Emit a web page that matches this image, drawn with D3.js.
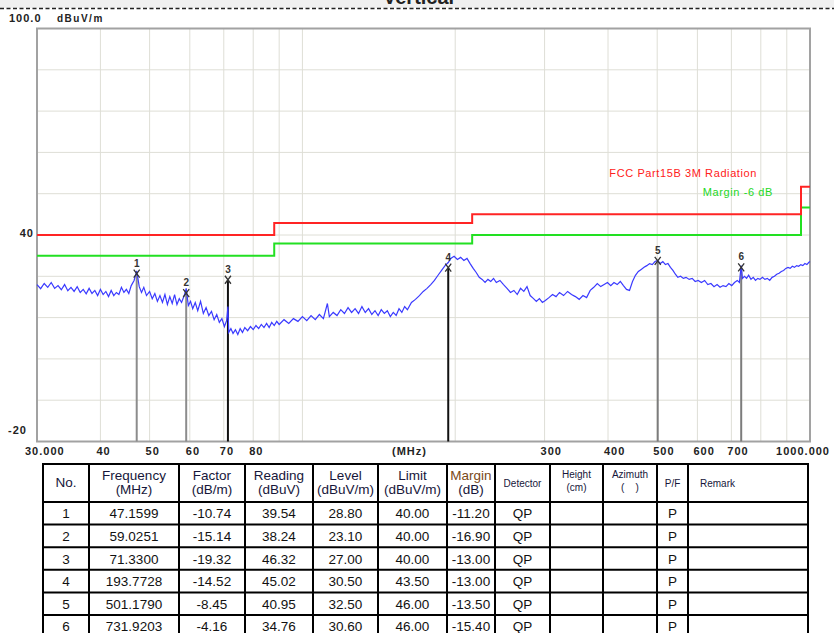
<!DOCTYPE html>
<html>
<head>
<meta charset="utf-8">
<script src="https://cdn.jsdelivr.net/npm/d3@7"></script>
<style>
  html, body { margin: 0; padding: 0; background: #fff; }
  svg { display: block; font-family: "Liberation Sans", Arial, sans-serif; }
</style>
</head>
<body>
<div id="chart"></div>
<script>
// ---- data ----
const xGridValues = [30, 40, 50, 60, 70, 80, 90, 100, 200, 300, 400, 500, 600, 700, 800, 900, 1000];
const xTickValues = [30, 40, 50, 60, 70, 80, 300, 400, 500, 600, 700, 1000];
const xTickLabels = ["30.000", "40", "50", "60", "70", "80", "300", "400", "500", "600", "700", "1000.000"];
const yGridValues = [-20, -8, 4, 16, 28, 40, 52, 64, 76, 88, 100];
const yTickValues = [100, 40, -20];
const yTickLabels = ["100.0", "40", "-20"];

// FCC Part15B limit, step after each frequency
const limitFreq = [30, 88, 216, 960, 1000];
const limitLevel = [40, 43.5, 46, 54, 54];
const marginOffset = -6;

// measured spectrum trace [MHz, dBuV/m]
const trace = [
  [30, 25.6], [30.5, 24.4], [31, 25.9], [31.5, 24.8], [32, 26.2], [32.5, 24.5], [33, 25.3], [33.5, 24.1],
  [34, 25.6], [34.5, 23.8], [35, 24.8], [35.5, 23.6], [36, 25.0], [36.5, 23.3], [37, 24.2], [37.5, 22.9],
  [38, 24.5], [38.5, 23.0], [39, 23.9], [39.5, 22.4], [40, 24.2], [40.5, 22.7], [41, 23.6], [41.5, 22.1],
  [42, 23.9], [42.5, 22.4], [43, 23.3], [43.5, 22.7], [44, 24.8], [44.5, 23.3], [45, 24.2], [45.5, 23.0],
  [46, 25.3], [46.6, 26.8], [47.16, 29.6], [47.7, 25.0], [48.2, 23.3], [48.7, 24.8], [49.3, 22.4], [50, 23.6],
  [50.6, 21.5], [51.2, 23.0], [51.8, 20.7], [52.4, 22.4], [53, 20.4], [53.6, 22.7], [54.2, 19.8], [54.8, 22.1],
  [55.4, 20.1], [56, 22.7], [56.6, 19.8], [57.2, 21.5], [57.8, 20.4], [58.5, 22.4], [59.03, 24.5], [59.6, 19.5],
  [60.2, 20.7], [60.8, 18.6], [61.5, 20.4], [62.2, 18.0], [63, 20.7], [63.8, 17.2], [64.6, 18.9], [65.4, 16.6],
  [66.2, 17.8], [67, 15.4], [67.8, 16.9], [68.6, 14.6], [69.4, 15.7], [70.2, 13.4], [70.9, 15.1], [71.33, 19.2],
  [71.6, 11.7], [72.3, 12.8], [73, 11.4], [73.8, 12.5], [74.6, 11.1], [75.4, 12.8], [76.2, 11.7], [77, 13.1],
  [78, 12.2], [79, 13.4], [80, 12.5], [81, 13.7], [82, 12.8], [83, 14.0], [84, 13.1], [85, 14.3],
  [86, 13.1], [87, 14.6], [88, 13.7], [89, 14.9], [90, 14.0], [92, 15.4], [94, 14.3], [96, 15.7],
  [98, 14.9], [100, 16.3], [102, 15.1], [104, 16.6], [106, 15.4], [108, 16.9], [110, 15.7], [112, 20.1],
  [113, 16.3], [115, 17.5], [117, 16.6], [119, 18.3], [121, 17.2], [123, 18.9], [125, 17.5], [127, 18.6],
  [129, 17.2], [131, 19.2], [133, 17.5], [135, 18.6], [137, 16.9], [139, 18.0], [141, 16.6], [143, 18.3],
  [145, 17.2], [147, 18.0], [149, 16.3], [151, 17.5], [153, 16.6], [155, 18.6], [157, 17.5], [159, 19.2],
  [161, 18.3], [164, 20.4], [167, 21.3], [170, 22.4], [173, 23.6], [176, 24.5], [179, 25.6], [182, 26.8],
  [185, 28.3], [188, 29.7], [191, 31.1], [193.8, 32.0], [196, 33.2], [199, 33.8], [202, 32.9], [205, 33.5],
  [208, 32.6], [211, 33.2], [214, 31.7], [217, 30.3], [220, 29.1], [223, 27.7], [226, 27.1], [229, 26.2],
  [232, 27.1], [235, 26.5], [238, 27.4], [241, 26.2], [245, 26.8], [249, 25.6], [253, 24.5], [257, 23.3],
  [261, 23.9], [265, 22.7], [269, 24.5], [273, 23.6], [277, 25.0], [281, 22.4], [285, 21.6], [289, 20.7],
  [293, 21.5], [297, 20.4], [301, 21.0], [306, 21.8], [311, 22.7], [316, 22.1], [321, 23.3], [327, 22.4],
  [333, 23.6], [339, 22.7], [345, 22.1], [351, 21.3], [357, 22.4], [363, 21.8], [369, 23.9], [375, 24.8],
  [381, 25.9], [387, 25.0], [393, 25.6], [399, 26.2], [405, 25.3], [411, 26.2], [417, 25.6], [423, 26.5],
  [429, 25.3], [435, 24.2], [441, 23.9], [447, 26.5], [453, 28.3], [459, 29.4], [465, 30.0], [471, 30.6],
  [477, 31.1], [483, 31.7], [489, 31.4], [495, 32.3], [501, 32.6], [507, 31.7], [513, 32.3], [519, 31.4],
  [525, 31.7], [531, 30.6], [537, 29.7], [543, 28.6], [549, 27.7], [556, 28.0], [563, 27.4], [570, 27.7],
  [578, 27.1], [586, 27.4], [594, 26.5], [602, 26.8], [611, 26.2], [620, 26.8], [629, 25.6], [638, 25.9],
  [647, 25.0], [656, 25.6], [665, 24.8], [674, 25.3], [683, 25.0], [692, 25.9], [701, 25.3], [710, 26.2],
  [719, 26.8], [726, 26.2], [731.9, 31.1], [736, 27.4], [743, 28.0], [750, 27.4], [757, 28.3], [765, 27.1],
  [773, 27.7], [781, 26.8], [789, 27.4], [797, 27.1], [806, 27.7], [815, 27.1], [824, 27.4], [833, 26.8],
  [842, 27.7], [851, 28.0], [860, 28.6], [869, 28.9], [878, 29.4], [887, 29.7], [896, 30.3], [905, 30.6],
  [914, 30.3], [923, 30.9], [932, 30.6], [941, 31.1], [950, 30.9], [959, 31.4], [968, 31.1], [977, 31.7],
  [986, 31.4], [994, 32.0], [1000, 32.3]
];

// marker table
const markerNo = [1, 2, 3, 4, 5, 6];
const markerFreq = ["47.1599", "59.0251", "71.3300", "193.7728", "501.1790", "731.9203"];
const markerFactor = ["-10.74", "-15.14", "-19.32", "-14.52", "-8.45", "-4.16"];
const markerReading = ["39.54", "38.24", "46.32", "45.02", "40.95", "34.76"];
const markerLevel = ["28.80", "23.10", "27.00", "30.50", "32.50", "30.60"];
const markerLimit = ["40.00", "40.00", "40.00", "43.50", "46.00", "46.00"];
const markerMargin = ["-11.20", "-16.90", "-13.00", "-13.00", "-13.50", "-15.40"];
const markerDetector = ["QP", "QP", "QP", "QP", "QP", "QP"];
const markerPF = ["P", "P", "P", "P", "P", "P"];

const headers = [["No."], ["Frequency", "(MHz)"], ["Factor", "(dB/m)"], ["Reading", "(dBuV)"],
  ["Level", "(dBuV/m)"], ["Limit", "(dBuV/m)"], ["Margin", "(dB)"], ["Detector"], ["Height", "(cm)"],
  ["Azimuth", "(\u00a0\u00a0\u00a0\u00a0)"], ["P/F"], ["Remark"]];

// ---- layout ----
const width = 834, height = 633;
const markerLineColor = ["#8c8c8c", "#8c8c8c", "#111", "#111", "#7c7c7c", "#7c7c7c"];
const colEdges = [43, 89, 179, 245, 313, 378, 447, 495, 550, 603, 657, 688, 808];
const tableTop = 464, headerH = 38, rowH = 22.6;

const svg = d3.select("#chart").append("svg")
  .attr("width", width).attr("height", height)
  .attr("viewBox", `0 0 ${width} ${height}`);

const x = d3.scaleLog().domain([30, 1000]).range([37, 810]);
const y = d3.scaleLinear().domain([-20, 100]).range([441.5, 28.5]);

// top strip with the cut-off title
svg.append("rect").attr("x", 0).attr("y", 0).attr("width", width).attr("height", 8).attr("fill", "#f0f0f0");
svg.append("text").attr("x", 383).attr("y", 4).attr("font-size", 20).attr("font-weight", "bold")
  .attr("fill", "#222").text("Vertical");
svg.append("line").attr("x1", 0).attr("x2", width).attr("y1", 8.5).attr("y2", 8.5)
  .attr("stroke", "#222").attr("stroke-width", 1.5).attr("stroke-dasharray", "4,2.5");

// grid
const plot = svg.append("g");
plot.selectAll("line.vg").data(xGridValues.slice(1, -1)).join("line")
  .attr("x1", d => x(d)).attr("x2", d => x(d))
  .attr("y1", y(100)).attr("y2", y(-20))
  .attr("stroke", "#deded6").attr("stroke-width", 1);
plot.selectAll("line.hg").data(yGridValues.slice(1, -1)).join("line")
  .attr("x1", x(30)).attr("x2", x(1000))
  .attr("y1", d => y(d)).attr("y2", d => y(d))
  .attr("stroke", "#deded6").attr("stroke-width", 1);

// frame
plot.append("rect")
  .attr("x", x(30)).attr("y", y(100))
  .attr("width", x(1000) - x(30)).attr("height", y(-20) - y(100))
  .attr("fill", "none").attr("stroke", "#a2a2a2").attr("stroke-width", 2);

// x tick labels
const tickFont = g => g.attr("font-size", 11).attr("font-weight", "bold")
  .attr("letter-spacing", 1).attr("fill", "#222");
svg.append("g").selectAll("text").data(xTickValues).join("text")
  .call(tickFont)
  .attr("x", (d, i) => i === 0 ? x(d) - 12 : i === xTickValues.length - 1 ? x(d) + 20 : x(d) - 4)
  .attr("y", 455)
  .attr("text-anchor", (d, i) => i === xTickValues.length - 1 ? "end" : "start")
  .text((d, i) => xTickLabels[i]);
svg.append("text").call(tickFont).attr("x", 392).attr("y", 455).text("(MHz)");

// y tick labels
const yLabelPos = [{ x: 9, dy: -6.5, anchor: "start" }, { x: 34, dy: 1.5, anchor: "end" }, { x: 8, dy: -7.5, anchor: "start" }];
svg.append("g").selectAll("text").data(yTickValues).join("text")
  .call(tickFont)
  .attr("x", (d, i) => yLabelPos[i].x)
  .attr("y", (d, i) => y(d) + yLabelPos[i].dy)
  .attr("text-anchor", (d, i) => yLabelPos[i].anchor)
  .text((d, i) => yTickLabels[i]);
svg.append("text").attr("x", 57).attr("y", y(100) - 6.5).attr("font-size", 10).attr("font-weight", "bold")
  .attr("letter-spacing", 1.5).attr("fill", "#222").text("dBuV/m");

// limit lines
const limitPts = limitFreq.map((f, i) => [f, limitLevel[i]]);
const stepLine = d3.line().x(d => x(d[0])).y(d => y(d[1])).curve(d3.curveStepAfter);
plot.append("path").attr("d", stepLine(limitPts.map(d => [d[0], d[1] + marginOffset])))
  .attr("fill", "none").attr("stroke", "#22e022").attr("stroke-width", 2);
plot.append("path").attr("d", stepLine(limitPts))
  .attr("fill", "none").attr("stroke", "#ff2424").attr("stroke-width", 2);

svg.append("text").attr("x", 757).attr("y", 177).attr("text-anchor", "end")
  .attr("font-size", 11).attr("letter-spacing", 0.6).attr("fill", "#ff2020")
  .text("FCC Part15B 3M Radiation");
svg.append("text").attr("x", 773).attr("y", 196).attr("text-anchor", "end")
  .attr("font-size", 11).attr("letter-spacing", 0.6).attr("fill", "#1ed81e")
  .text("Margin -6 dB");

// marker lines
const mk = markerNo.map((n, i) => ({ n, f: +markerFreq[i], lv: +markerLevel[i], c: markerLineColor[i] }));
plot.selectAll("line.mk").data(mk).join("line")
  .attr("x1", d => x(d.f)).attr("x2", d => x(d.f))
  .attr("y1", d => y(d.lv)).attr("y2", y(-20))
  .attr("stroke", d => d.c).attr("stroke-width", 2);

// trace
const traceLine = d3.line().x(d => x(d[0])).y(d => y(d[1]));
plot.append("path").attr("d", traceLine(trace))
  .attr("fill", "none").attr("stroke", "#3a3aff").attr("stroke-width", 1.2);

// marker symbols
const mg = plot.selectAll("g.mk").data(mk).join("g")
  .attr("transform", d => `translate(${x(d.f)},${y(d.lv)})`);
mg.append("path").attr("d", "M-3,-4L3,4M3,-4L-3,4")
  .attr("stroke", "#333").attr("stroke-width", 1.3).attr("fill", "none");
mg.append("text").attr("y", -7).attr("text-anchor", "middle")
  .attr("font-size", 10).attr("font-weight", "bold").attr("fill", "#333")
  .text(d => d.n);

// ---- table ----
const rowEdges = [tableTop, tableTop + headerH];
markerNo.forEach((d, i) => rowEdges.push(tableTop + headerH + rowH * (i + 1)));
const table = svg.append("g");

const smallCols = [7, 8, 9, 10, 11];
headers.forEach((h, c) => {
  const small = smallCols.includes(c);
  const cx = c === 11 ? colEdges[c] + 12 : (colEdges[c] + colEdges[c + 1]) / 2;
  const lines = h.length === 1 ? [487] : (small ? [478, 491] : [480, 494]);
  h.forEach((t, k) => {
    table.append("text")
      .attr("x", cx).attr("y", lines[k])
      .attr("text-anchor", c === 11 ? "start" : "middle")
      .attr("font-size", small ? 10 : 13.5)
      .attr("fill", c === 6 && k === 0 ? "#7a4a18" : "#16163a")
      .text(t);
  });
});

const rowsData = markerNo.map((n, i) => [String(n), markerFreq[i], markerFactor[i], markerReading[i],
  markerLevel[i], markerLimit[i], markerMargin[i], markerDetector[i], "", "", markerPF[i], ""]);
rowsData.forEach((row, r) => {
  const base = rowEdges[r + 1] + rowH / 2 + 5;
  row.forEach((t, c) => {
    if (!t) return;
    table.append("text")
      .attr("x", (colEdges[c] + colEdges[c + 1]) / 2)
      .attr("y", base)
      .attr("text-anchor", "middle")
      .attr("font-size", 13.5)
      .attr("fill", "#111")
      .text(t);
  });
});

table.selectAll("line.h").data(rowEdges).join("line")
  .attr("x1", colEdges[0]).attr("x2", colEdges[colEdges.length - 1])
  .attr("y1", d => d).attr("y2", d => d)
  .attr("stroke", "#000").attr("stroke-width", 2);
table.selectAll("line.v").data(colEdges).join("line")
  .attr("x1", d => d).attr("x2", d => d)
  .attr("y1", tableTop - 1).attr("y2", height + 5)
  .attr("stroke", "#000").attr("stroke-width", 2);
</script>
</body>
</html>
